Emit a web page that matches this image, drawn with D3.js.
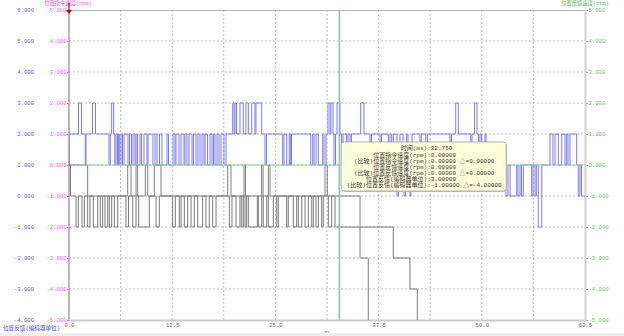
<!DOCTYPE html>
<html>
<head>
<meta charset="utf-8">
<script src="https://cdn.jsdelivr.net/npm/d3@7"></script>
<style>
body { margin: 0; background: #fff; }
svg { display: block; }
text { font-family: "Liberation Mono", "Noto Sans CJK SC", monospace; }
</style>
</head>
<body>
<div id="chart"></div>
<script>
// step series, [time ms, value]; feedback in encoder units (left blue axis)
const posFb = [[0,1],[0.02,2],[1.15,3],[1.51,2],[1.97,1],[2.06,2],[2.85,3],[3.21,2],[4.84,1],[5.00,2],[5.17,3],[5.41,2],[5.55,1],[5.69,2],[5.87,1],[6.00,2],[6.09,1],[6.30,2],[6.48,1],[6.66,2],[7.15,1],[7.33,2],[7.57,1],[7.75,2],[7.99,1],[8.12,2],[8.30,1],[8.60,2],[8.78,1],[9.08,2],[9.45,1],[9.57,2],[10.17,1],[10.42,2],[10.66,1],[10.96,2],[11.26,1],[11.87,2],[12.05,1],[12.60,2],[12.84,1],[12.96,2],[13.32,1],[13.57,2],[13.93,1],[14.05,2],[14.29,1],[14.53,2],[14.90,1],[15.08,2],[15.38,1],[15.62,2],[15.87,1],[16.11,2],[16.35,1],[16.47,2],[16.78,1],[17.08,2],[17.32,1],[17.50,2],[17.68,1],[17.93,2],[18.17,1],[18.41,2],[18.77,1],[19.02,2],[19.83,3],[19.99,2],[20.11,3],[20.29,2],[20.71,3],[21.11,2],[21.44,3],[21.72,2],[22.13,3],[22.53,2],[22.65,3],[23.34,2],[23.74,1],[23.92,2],[25.88,1],[26.04,2],[26.37,1],[26.68,2],[26.85,1],[26.95,2],[29.28,1],[29.52,2],[29.68,1],[29.92,2],[30.20,1],[30.73,2],[30.89,1],[31.13,2],[31.37,3],[31.61,2],[31.73,3],[31.98,2],[32.10,1],[32.28,2],[32.46,3],[32.82,2],[33.01,1],[33.19,2],[33.64,1],[33.79,2],[34.04,1],[34.22,2],[35.33,3],[35.73,2],[36.46,1],[36.64,2],[37.67,1],[37.85,2],[38.67,1],[38.88,2],[39.09,1],[39.28,2],[39.73,0],[39.91,1],[40.09,2],[40.46,1],[40.58,0],[40.76,1],[40.90,2],[41.06,1],[41.30,0],[41.42,1],[41.55,2],[42.51,1],[42.67,2],[43.21,1],[43.40,2],[46.15,1],[46.33,2],[46.84,3],[47.15,2],[48.66,1],[48.81,2],[49.12,3],[49.42,2],[49.60,1],[49.78,2],[49.99,1],[50.39,2],[50.51,1],[52.93,0],[53.17,1],[53.42,0],[54.23,1],[54.38,0],[54.63,1],[54.81,0],[55.03,1],[56.04,0],[56.20,1],[56.44,0],[56.60,1],[56.84,-1],[57.26,1],[58.26,2],[58.62,1],[58.87,2],[59.27,1],[59.68,2],[60.08,1],[60.28,2],[60.44,1],[60.68,2],[61.49,1],[61.69,0],[61.89,1],[62.08,0]];

// compared runs (gray)
const cmpFbA = [[0,1],[0.18,0],[0.85,-1],[1.13,0],[1.57,-1],[1.85,0],[2.26,-1],[2.54,0],[2.94,-1],[3.48,0],[3.79,-1],[4.08,0],[4.36,-1],[4.69,0],[4.88,-1],[5.17,0],[5.49,-1],[5.90,0],[6.90,-1],[7.21,0],[7.72,-1],[8.12,0],[8.44,-1],[9.73,0],[10.54,-1],[10.94,0],[12.56,-1],[12.88,0],[13.36,-1],[13.57,0],[13.97,-1],[14.38,0],[14.78,-1],[15.18,0],[15.59,-1],[16.19,0],[16.59,-1],[16.99,0],[17.41,-1],[17.81,0],[19.42,-1],[19.74,0],[20.23,-1],[20.71,0],[20.92,-1],[21.11,0],[21.32,-1],[21.52,0],[21.72,-1],[22.81,0],[22.93,-1],[23.34,0],[23.53,-1],[23.95,0],[24.14,-1],[24.75,0],[25.16,-1],[25.35,0],[26.37,-1],[26.56,0],[27.17,-1],[27.58,0],[27.77,-1],[28.19,0],[28.59,-1],[28.99,0],[29.40,-1],[29.59,0],[29.92,-1],[30.20,0],[30.61,-1],[30.80,0],[31.41,-1],[31.82,0],[32.22,-1],[39.28,-2],[41.30,-3],[42.19,-7]];
const cmpFbB = [[0,1],[2.26,0],[7.11,1],[7.51,0],[8.12,1],[8.32,0],[9.24,1],[9.53,0],[10.33,1],[11.14,0],[19.22,1],[19.62,0],[21.20,1],[21.38,0],[23.34,1],[23.50,0],[24.14,1],[24.35,0],[31.01,1],[31.29,0],[35.25,-2],[36.25,-7]];

// feedback speed (rpm, right green axis)
const fbSpeed = [[2.0,0],[62.5,0]];

const fbTicks = d3.range(-4, 7);
const spdTicks = d3.range(-5, 6);
const xLabelTicks = [0, 12.5, 25, 37.5, 50, 62.5];
const xGridTicks = d3.range(0, 63, 6.25);

const cursorT = 32.75;
const tipLabels = ["时间(ms)", "位置指令速度(rpm)", "(比较)位置指令速度(rpm)", "位置反馈速度(rpm)", "(比较)位置反馈速度(rpm)", "位置反馈(编码器单位)", "(比较)位置反馈(编码器单位)"];
const tipValues = ["32.750", "0.00000", "0.00000  △=0.00000", "0.00000", "0.00000  △=0.00000", "3.00000", "-1.00000  △=-4.00000"];

const W = 624, H = 336;
const svg = d3.select("#chart").append("svg").attr("width", W).attr("height", H);

const x = d3.scaleLinear().domain([0, 62.5]).range([69, 585]);
const yFb = d3.scaleLinear().domain([-4, 6]).range([320, 10]);
const yCmd = d3.scaleLinear().domain([-5, 5]).range([320, 10]);
const ySpd = d3.scaleLinear().domain([-5, 5]).range([320, 10]);
const fmt3 = d => d.toFixed(3);

svg.append("rect").attr("x", 0).attr("y", 333).attr("width", W).attr("height", 3).attr("fill", "#eeeeee");

// grid
svg.append("g").selectAll("line").data(fbTicks.slice(1, -1)).join("line")
  .attr("x1", 69).attr("x2", 585).attr("y1", d => yFb(d)).attr("y2", d => yFb(d))
  .attr("stroke", "#bdbdbd").attr("stroke-dasharray", "2,2");
svg.append("g").selectAll("line").data(xGridTicks.slice(1, -1)).join("line")
  .attr("x1", d => x(d)).attr("x2", d => x(d)).attr("y1", 10).attr("y2", 320)
  .attr("stroke", "#bdbdbd").attr("stroke-dasharray", "2,2");

// axes
function styleAxis(g, color, size) {
  g.select(".domain").remove();
  g.selectAll("text").attr("fill", color).attr("font-size", size)
    .attr("font-family", "Liberation Mono, monospace");
  g.selectAll("line").attr("stroke", color);
  g.attr("font-family", null);
}
svg.append("g").attr("transform", "translate(34,0)")
  .call(d3.axisLeft(yFb).tickValues(fbTicks).tickFormat(fmt3).tickSize(0).tickPadding(0))
  .call(g => styleAxis(g, "#5b5bff", 5.6));
svg.append("g").attr("transform", "translate(69,0)")
  .call(d3.axisLeft(yCmd).tickValues(spdTicks).tickFormat(fmt3).tickSize(2).tickPadding(0.5))
  .call(g => styleAxis(g, "#ff55ff", 5.6));
svg.append("g").attr("transform", "translate(585,0)")
  .call(d3.axisRight(ySpd).tickValues(spdTicks).tickFormat(fmt3).tickSize(3).tickPadding(0.5))
  .call(g => styleAxis(g, "#66c266", 5.6));
svg.append("g").attr("transform", "translate(0,320)")
  .call(d3.axisBottom(x).tickValues(xLabelTicks).tickFormat(d => d.toFixed(1)).tickSize(0).tickPadding(3))
  .call(g => styleAxis(g, "#666666", 5.6));

// frame
svg.append("line").attr("x1", 69).attr("x2", 585).attr("y1", 10.5).attr("y2", 10.5).attr("stroke", "#b4b4b4");
svg.append("line").attr("x1", 69).attr("x2", 69).attr("y1", 10).attr("y2", 321).attr("stroke", "#a8a8a8").attr("stroke-width", 1.6);
svg.append("line").attr("x1", 69).attr("x2", 586).attr("y1", 320.5).attr("y2", 320.5).attr("stroke", "#cccccc").attr("stroke-width", 2);
svg.append("line").attr("x1", 585.5).attr("x2", 585.5).attr("y1", 10).attr("y2", 321).attr("stroke", "#d4d4d4").attr("stroke-width", 2.2);

// titles
svg.append("text").attr("x", 68).attr("y", 3.4).attr("dy", "0.35em").attr("text-anchor", "middle")
  .attr("font-size", 5.3).attr("fill", "#ff44dd").text("位置指令速度(rpm)");
svg.append("text").attr("x", 585).attr("y", 3.4).attr("dy", "0.35em").attr("text-anchor", "middle")
  .attr("font-size", 5.3).attr("fill", "#55b855").text("位置反馈速度(rpm)");
svg.append("text").attr("x", 3).attr("y", 328).attr("dy", "0.35em")
  .attr("font-size", 5.6).attr("fill", "#4848ff").text("位置反馈(编码器单位)");
svg.append("text").attr("x", 327).attr("y", 331.5).attr("dy", "0.35em").attr("text-anchor", "middle")
  .attr("font-size", 4.2).attr("fill", "#777").text("ms");

// traces
svg.append("clipPath").attr("id", "plot").append("rect")
  .attr("x", 69).attr("y", 10).attr("width", 516).attr("height", 310);
const traces = svg.append("g").attr("clip-path", "url(#plot)");
function stepPath(data, ys) {
  const pts = data.concat([[62.5, data[data.length - 1][1]]]);
  return d3.line().x(d => x(d[0])).y(d => ys(d[1])).curve(d3.curveStepAfter)(pts);
}
traces.append("path").attr("d", stepPath(cmpFbB, yFb)).attr("fill", "none").attr("stroke", "#808080").attr("stroke-width", 1);
traces.append("path").attr("d", stepPath(cmpFbA, yFb)).attr("fill", "none").attr("stroke", "#7a7a7a").attr("stroke-width", 1);
traces.append("path").attr("d", stepPath(posFb, yFb)).attr("fill", "none").attr("stroke", "#7b7bff").attr("stroke-width", 1);
traces.append("path").attr("d", stepPath(fbSpeed, ySpd)).attr("fill", "none").attr("stroke", "#90d090").attr("stroke-width", 1);

// cursor
const cx = x(cursorT);
svg.append("line").attr("x1", cx).attr("x2", cx).attr("y1", 10).attr("y2", 320)
  .attr("stroke", "#86c4c4").attr("stroke-width", 1.6);

// start marker
const mx = x(0);
svg.append("line").attr("x1", mx).attr("x2", mx).attr("y1", 2.5).attr("y2", 10).attr("stroke", "#d00000").attr("stroke-width", 1.2);
svg.append("path").attr("d", `M${mx - 3},10L${mx + 3},10L${mx},14Z`).attr("fill", "#c00000");

// tooltip
const tipX = cx + 1.8, tipY = 142, tipW = 165, tipH = 49;
svg.append("rect").attr("x", tipX + 1).attr("y", tipY + 1).attr("width", tipW).attr("height", tipH).attr("rx", 3)
  .attr("fill", "#c8c8c8");
svg.append("rect").attr("x", tipX).attr("y", tipY).attr("width", tipW).attr("height", tipH).attr("rx", 3)
  .attr("fill", "#ffffdc").attr("stroke", "#a0a0a0").attr("stroke-width", 0.8);
const colonX = tipX + 86;
const tip = svg.append("g").attr("font-size", 6).attr("fill", "#333");
tipLabels.forEach((lab, i) => {
  const ty = tipY + 6.3 + i * 6.15;
  tip.append("text").attr("x", colonX).attr("y", ty).attr("dy", "0.35em").attr("text-anchor", "end").text(lab);
  tip.append("text").attr("x", colonX).attr("y", ty).attr("dy", "0.35em").text(":" + tipValues[i]);
});
</script>
</body>
</html>
